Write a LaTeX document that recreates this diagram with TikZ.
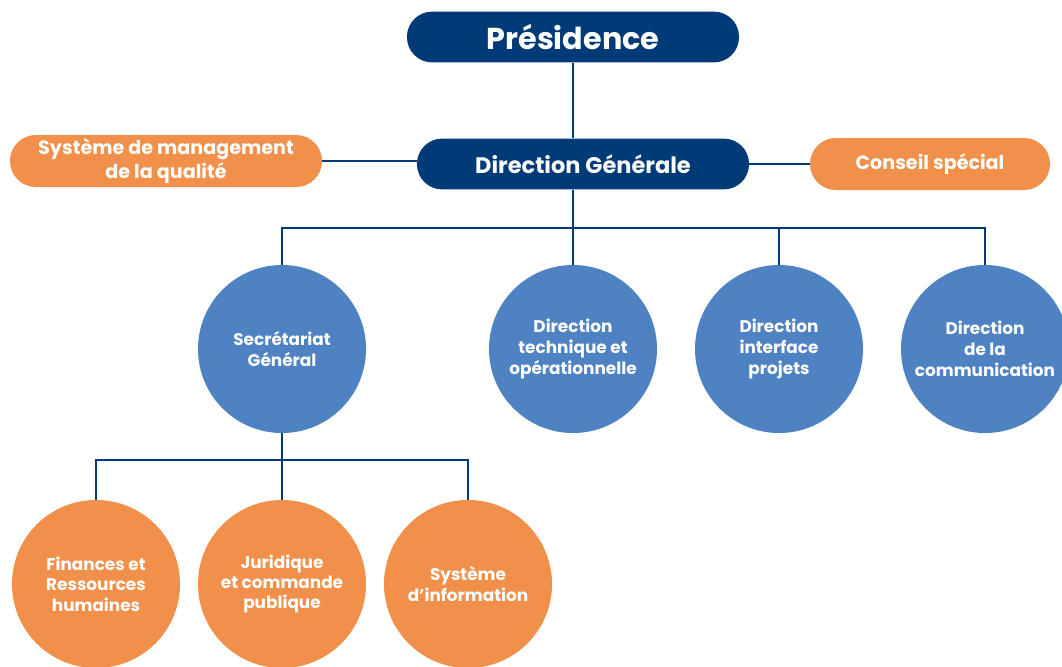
\documentclass[tikz,border=0pt]{standalone}
\usepackage{fontspec}
\setmainfont{Poppins}
\usepackage{tikz}

\definecolor{navy}{HTML}{003B77}
\definecolor{midblue}{HTML}{4F82C2}
\definecolor{orangebox}{HTML}{F0904B}

\tikzset{
	topbox/.style={draw=none, fill=navy, text=white, font=\bfseries,
		rounded corners=0.63cm, minimum width=8.3cm, minimum height=1.27cm, inner sep=0},
	sidebox/.style={draw=none, fill=orangebox, text=white, font=\bfseries\fontsize{13.6}{16.5}\selectfont,
		rounded corners=0.65cm, minimum height=1.3cm, inner sep=0, align=center},
	dirnode/.style={shape=circle, fill=midblue, text=white, minimum size=4.2cm, inner sep=0,
		align=center, font=\bfseries\fontsize{12}{14.8}\selectfont},
	servnode/.style={shape=circle, fill=orangebox, text=white, minimum size=4.2cm, inner sep=0,
		align=center, font=\bfseries\fontsize{12}{14.5}\selectfont},
	link/.style={draw=navy, line width=1.8pt}
}

\begin{document}
\begin{tikzpicture}[x=0.025cm, y=-0.025cm]
	
	\useasboundingbox (0,0) rectangle (1062,666);
	
	\node[topbox, font=\bfseries\fontsize{21.5}{24}\selectfont] (pres) at (573, 37)     {Présidence};
	\node[topbox, font=\bfseries\fontsize{16}{18}\selectfont] (dg) at (583, 164)     {Direction Générale};
	\node[sidebox, minimum width=7.8cm] (smq) at (166, 161)     {Système de management\\de la qualité};
	\node[sidebox, minimum width=6.0cm] (cs) at (930, 164)     {Conseil spécial};
	
	\node[dirnode] (sg) at (282, 349)     {Secrétariat\\Général};
	\node[dirnode] (dto) at (573, 349)     {Direction\\technique et\\opérationnelle};
	\node[dirnode] (dip) at (779, 349)     {Direction\\interface\\projets};
	\node[dirnode] (dcom) at (985, 349)     {Direction\\de la\\communication};
	
	\node[servnode] (frh) at (96, 584)     {Finances et\\Ressources\\humaines};
	\node[servnode] (jcp) at (282, 584)     {Juridique\\et commande\\publique};
	\node[servnode] (si) at (468, 584)     {Système\\d’information};
	
	\coordinate (hub) at (573, 228);
	\coordinate (subhub) at (282, 460);
	
	\path[link] (pres) -- (pres |- dg.north);
	\path[link] (smq) -- (smq -| dg.west);
	\path[link] (cs) -- (cs -| dg.east);
	
	\path[link] (dg.south -| hub) -- (hub);
	\path[link] (hub) -| (sg);
	\path[link] (hub) -- (dto);
	\path[link] (hub) -| (dip);
	\path[link] (hub) -| (dcom);
	
	\path[link] (sg) -- (subhub);
	\path[link] (subhub) -| (frh);
	\path[link] (subhub) -- (jcp);
	\path[link] (subhub) -| (si);
	
\end{tikzpicture}
\end{document}
